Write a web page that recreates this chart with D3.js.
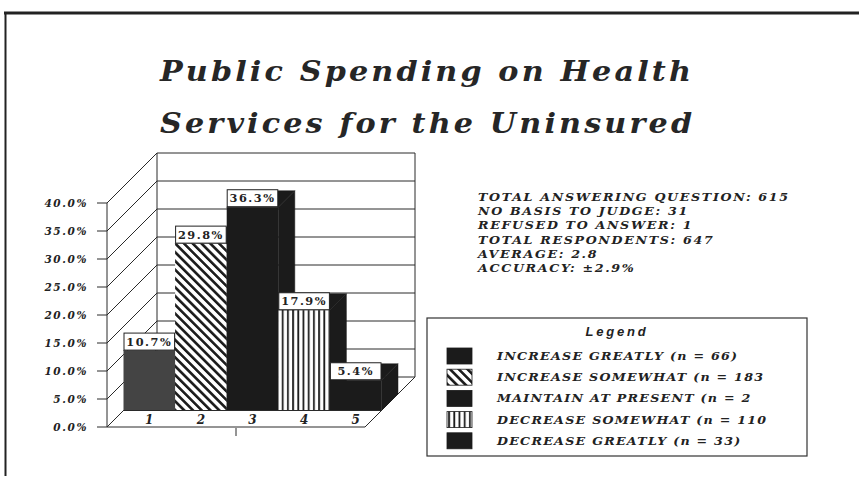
<!DOCTYPE html>
<html><head><meta charset="utf-8">
<script src="https://cdn.jsdelivr.net/npm/d3@7"></script>
<style>
html,body{margin:0;padding:0;background:#fff;}
svg{display:block;}
</style></head><body>
<svg id="chart" width="859" height="480"></svg>
<script>
// ---------------- data ----------------
const titleLines = ["Public Spending on Health", "Services for the Uninsured"];
const categories = ["1", "2", "3", "4", "5"];
const percentages = [10.7, 29.8, 36.3, 17.9, 5.4];
const yTicks = [0, 5, 10, 15, 20, 25, 30, 35, 40];
const legendLabels = [
  "INCREASE GREATLY (n = 66)",
  "INCREASE SOMEWHAT (n = 183",
  "MAINTAIN AT PRESENT (n = 2",
  "DECREASE SOMEWHAT (n = 110",
  "DECREASE GREATLY (n = 33)"
];
const statsLines = [
  "TOTAL ANSWERING QUESTION: 615",
  "NO BASIS TO JUDGE: 31",
  "REFUSED TO ANSWER: 1",
  "TOTAL RESPONDENTS: 647",
  "AVERAGE: 2.8",
  "ACCURACY: \u00b12.9%"
];

// ---------------- drawing ----------------
const svg = d3.select("#chart");
const serif = "'DejaVu Serif', serif";
const ink = "#1b1b1b";
const hscale = (x0, s) => `translate(${x0},0) scale(${s},1) translate(${-x0},0)`;

// frame
svg.append("line").attr("x1", 4).attr("x2", 859).attr("y1", 13).attr("y2", 13)
  .attr("stroke", "#222").attr("stroke-width", 3);
svg.append("line").attr("x1", 5.5).attr("x2", 5.5).attr("y1", 12).attr("y2", 476)
  .attr("stroke", "#222").attr("stroke-width", 2);

// title
svg.append("g").selectAll("text").data(titleLines).join("text")
  .attr("x", 160).attr("y", (d, i) => 81 + i * 52)
  .attr("font-family", serif).attr("font-weight", "bold").attr("font-style", "italic")
  .attr("font-size", 27).attr("letter-spacing", 2.8).attr("fill", "#262626")
  .attr("transform", hscale(160, 1.12))
  .text(d => d);

// patterns
const defs = svg.append("defs");
const hatch = defs.append("pattern").attr("id", "hatch").attr("patternUnits", "userSpaceOnUse")
  .attr("width", 6.2).attr("height", 6.2).attr("patternTransform", "rotate(-45)");
hatch.append("rect").attr("width", 6.2).attr("height", 6.2).attr("fill", "#fff");
hatch.append("rect").attr("x", 0).attr("width", 2.6).attr("height", 6.2).attr("fill", ink);
const stripes = defs.append("pattern").attr("id", "stripes").attr("patternUnits", "userSpaceOnUse")
  .attr("width", 5.2).attr("height", 10);
stripes.append("rect").attr("width", 5.2).attr("height", 10).attr("fill", "#fff");
stripes.append("rect").attr("x", 1).attr("width", 1.8).attr("height", 10).attr("fill", ink);

const frontFills = ["#444444", "url(#hatch)", ink, "url(#stripes)", ink];
const faceFills = ["#3a3a3a", ink, ink, ink, ink];
const legendFills = [ink, "url(#hatch)", ink, "url(#stripes)", ink];

// 3D geometry (oblique)
const D = 50, zF = 0.33, zB = 0.66;
const x = d3.scaleBand().domain(categories).range([107, 365]).padding(0);
const y = d3.scaleLinear().domain([0, 40]).range([427, 203]);
const P = (px, py, z) => [px + z * D, py - z * D];
const xL = x.range()[0], xR = x.range()[1];
const bw = x.bandwidth();

const grid = svg.append("g").attr("stroke", "#2a2a2a").attr("stroke-width", 1).attr("fill", "none");
yTicks.forEach(t => {
  const a = P(xL, y(t), 1), b = P(xR, y(t), 1);
  grid.append("line").attr("x1", a[0]).attr("y1", a[1]).attr("x2", b[0]).attr("y2", b[1]);
  const c = P(xL, y(t), 0);
  grid.append("line").attr("x1", c[0]).attr("y1", c[1]).attr("x2", a[0]).attr("y2", a[1]);
  grid.append("line").attr("x1", xL - 10).attr("y1", y(t)).attr("x2", xL).attr("y2", y(t));
});
const yMin = y(0), yMax = y(40);
[[P(xL, yMin, 0), P(xL, yMax, 0)], [P(xL, yMin, 1), P(xL, yMax, 1)], [P(xR, yMin, 1), P(xR, yMax, 1)],
 [P(xL, yMin, 0), P(xR, yMin, 0)], [P(xR, yMin, 0), P(xR, yMin, 1)]].forEach(([a, b]) => {
  grid.append("line").attr("x1", a[0]).attr("y1", a[1]).attr("x2", b[0]).attr("y2", b[1]);
});
grid.append("line").attr("x1", (xL + xR) / 2).attr("x2", (xL + xR) / 2)
  .attr("y1", yMin + 1).attr("y2", yMin + 9);

// y tick labels
svg.append("g").selectAll("text").data(yTicks).join("text")
  .attr("x", 88).attr("y", d => y(d) + 4).attr("text-anchor", "end")
  .attr("font-family", serif).attr("font-weight", "bold").attr("font-style", "italic")
  .attr("font-size", 10.5).attr("letter-spacing", 1.6).attr("fill", "#222")
  .text(d => d3.format(".1f")(d) + "%");

// bars
const bars = svg.append("g");
percentages.forEach((v, i) => {
  const x0 = x(categories[i]), x1 = x0 + bw, yb = y(0), yt = y(v);
  const g = bars.append("g");
  const side = [P(x1, yb, zF), P(x1, yb, zB), P(x1, yt, zB), P(x1, yt, zF)];
  const top = [P(x0, yt, zF), P(x1, yt, zF), P(x1, yt, zB), P(x0, yt, zB)];
  g.append("polygon").attr("points", side.join(" ")).attr("fill", faceFills[i]).attr("stroke", faceFills[i]).attr("stroke-width", 0.5);
  g.append("polygon").attr("points", top.join(" ")).attr("fill", faceFills[i]).attr("stroke", faceFills[i]).attr("stroke-width", 0.5);
  const f0 = P(x0, yt, zF);
  g.append("rect").attr("x", f0[0]).attr("y", f0[1]).attr("width", bw).attr("height", yb - yt)
    .attr("fill", frontFills[i]);
});
{
  const a = P(xL, y(0), zF), b = P(xR, y(0), zF);
  svg.append("line").attr("x1", a[0]).attr("y1", a[1]).attr("x2", b[0]).attr("y2", b[1])
    .attr("stroke", "#2a2a2a").attr("stroke-width", 1);
}

// value labels
const vl = svg.append("g");
percentages.forEach((v, i) => {
  const f0 = P(x(categories[i]), y(v), zF);
  const cx = f0[0] + bw / 2;
  vl.append("rect").attr("x", f0[0] + 0.5).attr("y", f0[1] - 17.5).attr("width", bw - 1).attr("height", 17)
    .attr("fill", "#fff").attr("stroke", "#222").attr("stroke-width", 1);
  vl.append("text").attr("x", cx).attr("y", f0[1] - 5).attr("text-anchor", "middle")
    .attr("font-family", serif).attr("font-weight", "bold").attr("font-size", 10.5)
    .attr("letter-spacing", 1.4).attr("fill", "#222")
    .attr("transform", hscale(cx, 1.08))
    .text(d3.format(".1f")(v) + "%");
});

// category labels on the floor
svg.append("g").selectAll("text").data(categories).join("text")
  .attr("x", d => P(x(d) + bw / 2, 0, zF)[0]).attr("y", y(0) - 3)
  .attr("text-anchor", "middle")
  .attr("font-family", serif).attr("font-weight", "bold").attr("font-style", "italic")
  .attr("font-size", 12).attr("fill", "#222")
  .text(d => d);

// stats block
svg.append("g").selectAll("text").data(statsLines).join("text")
  .attr("x", 478).attr("y", (d, i) => 201 + i * 14.2)
  .attr("font-family", serif).attr("font-weight", "bold").attr("font-style", "italic")
  .attr("font-size", 11).attr("letter-spacing", 1.45).attr("fill", "#222")
  .attr("transform", hscale(478, 1.15))
  .text(d => d);

// legend
const lg = svg.append("g");
lg.append("rect").attr("x", 427).attr("y", 318).attr("width", 380).attr("height", 138)
  .attr("fill", "#fff").attr("stroke", "#333").attr("stroke-width", 1.2);
lg.append("text").attr("x", 617).attr("y", 336).attr("text-anchor", "middle")
  .attr("font-family", "'Liberation Sans', Arial, sans-serif").attr("font-weight", "bold")
  .attr("font-style", "italic").attr("font-size", 13).attr("letter-spacing", 2.8).attr("fill", "#222")
  .text("Legend");
legendLabels.forEach((d, i) => {
  const cy = 356 + i * 21.2;
  lg.append("rect").attr("x", 447).attr("y", cy - 8).attr("width", 25).attr("height", 16)
    .attr("fill", legendFills[i]).attr("stroke", ink).attr("stroke-width", 0.8);
  lg.append("text").attr("x", 497).attr("y", cy + 4)
    .attr("font-family", serif).attr("font-weight", "bold").attr("font-style", "italic")
    .attr("font-size", 11).attr("letter-spacing", 1.1).attr("fill", "#222")
    .attr("transform", hscale(497, 1.15))
    .text(d);
});
</script>
</body></html>
